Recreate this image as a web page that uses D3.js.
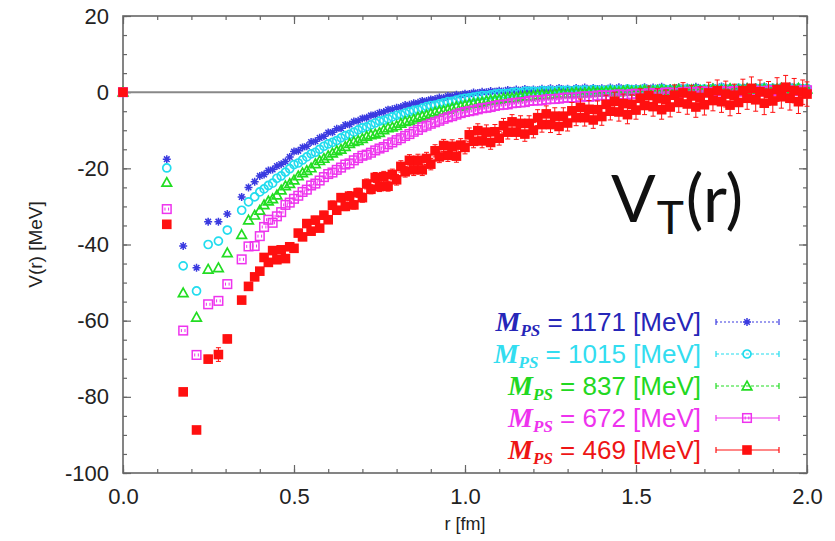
<!DOCTYPE html>
<html>
<head>
<meta charset="utf-8">
<script src="https://cdn.jsdelivr.net/npm/d3@7"></script>
<style>
  html, body { margin: 0; padding: 0; background: #fff; }
  svg { display: block; }
  .tick text { font-family: "Liberation Sans", Arial, sans-serif; font-size: 22px; fill: #222; }
  .axis path.domain { display: none; }
  .axis line { stroke: #666; stroke-width: 1.2; }
  .axis-label { font-family: "Liberation Sans", Arial, sans-serif; font-size: 19px; fill: #222; }
</style>
</head>
<body>
<div id="chart"></div>
<script>
// lattice distances r [fm], shared by all five ensembles
// short distances first, then rows of 8 points per 0.1 fm
const radii = [
  0.000, 0.128, 0.176, 0.215, 0.249, 0.279, 0.305, 0.347, 0.367, 0.385,
  0.4000, 0.4125, 0.4250, 0.4375, 0.4500, 0.4625, 0.4750, 0.4875,
  0.5000, 0.5125, 0.5250, 0.5375, 0.5500, 0.5625, 0.5750, 0.5875,
  0.6000, 0.6125, 0.6250, 0.6375, 0.6500, 0.6625, 0.6750, 0.6875,
  0.7000, 0.7125, 0.7250, 0.7375, 0.7500, 0.7625, 0.7750, 0.7875,
  0.8000, 0.8125, 0.8250, 0.8375, 0.8500, 0.8625, 0.8750, 0.8875,
  0.9000, 0.9125, 0.9250, 0.9375, 0.9500, 0.9625, 0.9750, 0.9875,
  1.0000, 1.0125, 1.0250, 1.0375, 1.0500, 1.0625, 1.0750, 1.0875,
  1.1000, 1.1125, 1.1250, 1.1375, 1.1500, 1.1625, 1.1750, 1.1875,
  1.2000, 1.2125, 1.2250, 1.2375, 1.2500, 1.2625, 1.2750, 1.2875,
  1.3000, 1.3125, 1.3250, 1.3375, 1.3500, 1.3625, 1.3750, 1.3875,
  1.4000, 1.4125, 1.4250, 1.4375, 1.4500, 1.4625, 1.4750, 1.4875,
  1.5000, 1.5125, 1.5250, 1.5375, 1.5500, 1.5625, 1.5750, 1.5875,
  1.6000, 1.6125, 1.6250, 1.6375, 1.6500, 1.6625, 1.6750, 1.6875,
  1.7000, 1.7125, 1.7250, 1.7375, 1.7500, 1.7625, 1.7750, 1.7875,
  1.8000, 1.8125, 1.8250, 1.8375, 1.8500, 1.8625, 1.8750, 1.8875,
  1.9000, 1.9125, 1.9250, 1.9375, 1.9500, 1.9625, 1.9750, 1.9875,
  2.0000
];

// V_T(r) [MeV]
const vM1171 = [
  0, -17.6, -40.4, -46.1, -34.0, -34.0, -32.0, -27.5, -25.0, -23.5,
  -22.0, -21.6, -20.6, -20.3, -19.4, -18.9, -18.2, -17.0,
  -15.6, -15.4, -14.5, -14.2, -13.1, -12.9, -12.0, -11.6,
  -10.6, -10.5, -9.6, -9.5, -8.6, -8.5, -7.7, -7.5,
  -6.9, -6.7, -6.1, -5.9, -5.4, -5.2, -4.6, -4.5,
  -4.1, -3.9, -3.4, -3.3, -2.9, -2.8, -2.3, -2.3,
  -1.9, -1.8, -1.4, -1.5, -1.0, -1.1, -0.7, -0.8,
  -0.4, -0.5, -0.1, -0.2, 0.1, 0.0, 0.3, 0.1,
  0.4, 0.2, 0.6, 0.3, 0.7, 0.4, 0.8, 0.5,
  0.7, 0.5, 0.9, 0.6, 1.0, 0.6, 1.1, 0.7,
  0.9, 0.6, 1.1, 0.7, 1.2, 0.7, 1.1, 0.8,
  1.0, 0.7, 1.2, 0.8, 1.3, 0.8, 1.1, 0.9,
  1.0, 0.7, 1.3, 0.8, 1.2, 0.9, 1.4, 0.8,
  1.1, 0.8, 1.3, 0.9, 1.2, 0.8, 1.4, 0.9,
  1.1, 0.8, 1.3, 0.9, 1.5, 0.9, 1.2, 1.0,
  1.2, 0.8, 1.4, 0.9, 1.3, 1.0, 1.5, 0.9,
  1.2, 0.9, 1.4, 1.0, 1.5, 0.9, 1.3, 1.1,
  1.1
];
const vM1015 = [
  0, -19.9, -45.6, -52.2, -40.0, -39.1, -36.2, -31.0, -28.8, -27.5,
  -26.2, -25.4, -24.5, -23.9, -22.6, -22.0, -21.0, -20.1,
  -19.0, -18.6, -17.8, -17.0, -16.2, -15.8, -15.0, -14.2,
  -13.6, -13.2, -12.7, -12.0, -11.4, -11.1, -10.5, -9.9,
  -9.4, -9.1, -8.6, -8.1, -7.6, -7.4, -7.0, -6.5,
  -6.1, -5.9, -5.5, -5.1, -4.8, -4.6, -4.2, -3.8,
  -3.5, -3.4, -3.1, -2.8, -2.5, -2.4, -2.1, -1.8,
  -1.6, -1.5, -1.3, -1.1, -0.9, -0.9, -0.7, -0.5,
  -0.4, -0.4, -0.3, -0.1, 0.0, -0.1, 0.2, 0.2,
  0.2, 0.1, 0.4, 0.3, 0.4, 0.2, 0.5, 0.4,
  0.5, 0.3, 0.6, 0.4, 0.6, 0.3, 0.7, 0.5,
  0.5, 0.4, 0.7, 0.5, 0.6, 0.4, 0.8, 0.6,
  0.6, 0.5, 0.8, 0.5, 0.7, 0.6, 0.9, 0.6,
  0.7, 0.5, 0.8, 0.6, 0.9, 0.6, 0.8, 0.7,
  0.8, 0.6, 0.9, 0.6, 1.0, 0.7, 0.9, 0.7,
  1.0, 0.7, 0.9, 0.7, 1.0, 0.8, 1.1, 0.8,
  1.0, 0.8, 1.1, 0.8, 1.0, 0.9, 1.1, 0.8,
  1.0
];
const vM837 = [
  0, -23.7, -52.7, -59.1, -46.5, -46.1, -42.2, -37.4, -33.6, -32.3,
  -31.0, -29.6, -28.6, -28.0, -27.0, -25.7, -24.6, -24.0,
  -23.1, -22.0, -21.2, -20.6, -19.9, -18.8, -18.0, -17.4,
  -16.7, -16.0, -15.4, -15.0, -14.3, -13.5, -13.0, -12.7,
  -12.2, -11.6, -11.2, -11.0, -10.6, -9.9, -9.4, -9.2,
  -8.8, -8.2, -7.7, -7.5, -7.1, -6.6, -6.3, -6.0,
  -5.6, -5.2, -4.9, -4.8, -4.5, -4.1, -3.8, -3.7,
  -3.4, -3.1, -2.9, -2.8, -2.6, -2.3, -2.1, -2.0,
  -1.9, -1.6, -1.5, -1.5, -1.4, -1.1, -1.0, -1.0,
  -0.9, -0.7, -0.6, -0.7, -0.6, -0.4, -0.3, -0.4,
  -0.4, -0.2, -0.1, -0.2, -0.2, 0.0, 0.1, 0.0,
  0.0, 0.2, 0.3, 0.1, 0.1, 0.3, 0.4, 0.2,
  0.2, 0.4, 0.5, 0.3, 0.3, 0.5, 0.6, 0.4,
  0.4, 0.6, 0.7, 0.4, 0.5, 0.6, 0.7, 0.5,
  0.5, 0.7, 0.8, 0.5, 0.6, 0.7, 0.9, 0.6,
  0.6, 0.8, 0.9, 0.6, 0.7, 0.8, 0.9, 0.7,
  0.7, 0.9, 1.0, 0.7, 0.8, 0.9, 1.0, 0.7,
  0.8
];
const vM672 = [
  0, -30.7, -62.6, -69.0, -55.7, -54.8, -50.4, -43.9, -40.5, -40.4,
  -37.8, -35.4, -33.5, -34.3, -32.6, -31.5, -29.6, -29.0,
  -28.0, -27.2, -26.2, -25.6, -24.5, -24.0, -23.2, -22.3,
  -21.5, -21.1, -20.4, -19.8, -19.0, -18.7, -17.9, -17.3,
  -16.7, -16.4, -15.9, -15.3, -14.8, -14.4, -13.7, -13.2,
  -12.6, -12.1, -11.5, -11.0, -10.4, -9.9, -9.2, -8.8,
  -8.3, -7.9, -7.5, -7.0, -6.6, -6.3, -5.9, -5.5,
  -5.2, -5.0, -4.8, -4.5, -4.2, -4.1, -3.9, -3.6,
  -3.4, -3.3, -3.2, -2.9, -2.8, -2.7, -2.6, -2.3,
  -2.2, -2.2, -2.1, -1.9, -1.8, -1.8, -1.7, -1.5,
  -1.4, -1.5, -1.4, -1.2, -1.1, -1.2, -1.1, -0.9,
  -0.8, -0.9, -0.9, -0.7, -0.6, -0.7, -0.7, -0.5,
  -0.4, -0.5, -0.5, -0.3, -0.2, -0.3, -0.3, -0.1,
  -0.1, -0.2, -0.2, 0.0, 0.1, 0.0, 0.0, 0.2,
  0.2, 0.0, 0.0, 0.2, 0.3, 0.1, 0.1, 0.3,
  0.3, 0.1, 0.2, 0.4, 0.4, 0.2, 0.2, 0.4,
  0.5, 0.3, 0.3, 0.5, 0.5, 0.3, 0.3, 0.5,
  0.5
];
const vM469 = [
  0, -34.7, -78.7, -88.7, -70.1, -68.9, -64.8, -54.6, -51.0, -48.5,
  -47.0, -43.4, -44.7, -41.6, -44.0, -41.4, -43.7, -40.6,
  -41.0, -37.0, -38.0, -34.5, -36.5, -33.6, -35.7, -32.3,
  -33.5, -29.7, -31.0, -27.7, -30.0, -27.3, -29.6, -26.4,
  -27.7, -24.1, -25.5, -22.4, -24.8, -22.2, -24.7, -21.6,
  -23.0, -19.5, -20.9, -17.9, -20.4, -17.9, -20.4, -17.4,
  -18.9, -15.4, -17.0, -14.0, -16.6, -14.2, -16.8, -13.9,
  -14.5, -11.2, -12.9, -10.1, -12.8, -10.5, -13.2, -10.4,
  -12.1, -8.8, -10.5, -7.8, -10.5, -8.2, -11.0, -8.2,
  -10.0, -6.7, -8.5, -5.7, -8.5, -6.3, -9.0, -6.3,
  -8.1, -4.9, -6.7, -4.0, -6.7, -4.5, -7.3, -4.6,
  -6.4, -3.2, -5.0, -2.4, -5.2, -3.0, -5.9, -3.2,
  -4.7, -1.6, -3.5, -0.9, -3.8, -1.7, -4.6, -2.0,
  -3.9, -0.8, -2.7, -0.2, -3.1, -1.0, -3.9, -1.4,
  -3.3, -0.2, -2.2, 0.4, -2.5, -0.5, -3.4, -0.8,
  -2.7, 0.4, -1.6, 1.0, -2.0, 0.1, -2.9, -0.3,
  -2.3, 0.7, -1.2, 1.3, -1.6, 0.4, -2.5, 0.0,
  -0.5
];
// statistical errors of the lightest ensemble
const errM469 = [
  0, 0.4, 0.6, 0.8, 1.0, 1.8, 1.0, 0.8, 0.8, 0.8,
  0.6, 0.7, 0.6, 0.7, 0.7, 0.8, 0.7, 0.8,
  0.8, 0.9, 0.8, 0.9, 0.9, 1.0, 0.9, 1.0,
  1.0, 1.1, 1.0, 1.1, 1.1, 1.2, 1.1, 1.2,
  1.2, 1.3, 1.2, 1.3, 1.3, 1.4, 1.3, 1.4,
  1.4, 1.5, 1.4, 1.5, 1.5, 1.6, 1.5, 1.6,
  1.5, 1.6, 1.5, 1.6, 1.6, 1.7, 1.6, 1.7,
  1.7, 1.8, 1.7, 1.8, 1.8, 1.9, 1.8, 1.9,
  1.8, 1.9, 1.8, 1.9, 1.9, 2.0, 1.9, 2.0,
  2.0, 2.1, 2.0, 2.1, 2.1, 2.2, 2.1, 2.2,
  2.1, 2.2, 2.1, 2.2, 2.2, 2.3, 2.2, 2.3,
  2.3, 2.4, 2.3, 2.4, 2.4, 2.5, 2.4, 2.5,
  2.4, 2.5, 2.4, 2.5, 2.5, 2.6, 2.5, 2.6,
  2.6, 2.7, 2.6, 2.7, 2.7, 2.8, 2.7, 2.8,
  2.7, 2.8, 2.7, 2.8, 2.8, 3.4, 2.8, 2.9,
  2.9, 3.0, 2.9, 3.0, 3.0, 3.1, 3.0, 3.1,
  3.0, 3.1, 3.0, 3.1, 3.1, 3.2, 3.1, 3.2,
  3.2
];

const masses = [1171, 1015, 837, 672, 469];
const seriesValues = [vM1171, vM1015, vM837, vM672, vM469];
const markerKinds = ["plus", "circle", "triangle", "square", "filled"];
const markerColors = ["#3a3ae0", "#22dcee", "#22dd22", "#ee33ee", "#ff1010"];
const textColors = ["#2626b8", "#33ddf0", "#22d822", "#ee33ee", "#ee1515"];
const lineDash = ["2,2", "3,2", "3,2", null, null];

const xTicks = [0, 0.5, 1.0, 1.5, 2.0];
const yTicks = [-100, -80, -60, -40, -20, 0, 20];

const W = 835, H = 541;
const M = { left: 123, right: 28, top: 16, bottom: 68 };

const svg = d3.select("#chart").append("svg").attr("width", W).attr("height", H);

const x = d3.scaleLinear().domain([0, 2]).range([M.left, W - M.right]);
const y = d3.scaleLinear().domain([-100, 20]).range([H - M.bottom, M.top]);

// minor ticks on all four sides
const minorX = d3.range(0, 2.0001, 0.1);
const minorY = d3.range(-100, 20.001, 5);

svg.append("g").attr("class", "axis")
  .attr("transform", `translate(0,${y(-100)})`)
  .call(d3.axisBottom(x).tickValues(minorX).tickSize(-4).tickFormat(""));
svg.append("g").attr("class", "axis")
  .attr("transform", `translate(0,${y(20)})`)
  .call(d3.axisTop(x).tickValues(minorX).tickSize(-4).tickFormat(""));
svg.append("g").attr("class", "axis")
  .attr("transform", `translate(${x(0)},0)`)
  .call(d3.axisLeft(y).tickValues(minorY).tickSize(-4).tickFormat(""));
svg.append("g").attr("class", "axis")
  .attr("transform", `translate(${x(2)},0)`)
  .call(d3.axisRight(y).tickValues(minorY).tickSize(-4).tickFormat(""));

// major ticks + labels (plain hyphen for minus, like the original)
svg.append("g").attr("class", "axis")
  .attr("transform", `translate(0,${y(-100)})`)
  .call(d3.axisBottom(x).tickValues(xTicks).tickSize(-8).tickPadding(15).tickFormat((d) => d.toFixed(1)));
svg.append("g").attr("class", "axis")
  .attr("transform", `translate(0,${y(20)})`)
  .call(d3.axisTop(x).tickValues(xTicks).tickSize(-8).tickFormat(""));
svg.append("g").attr("class", "axis")
  .attr("transform", `translate(${x(0)},0)`)
  .call(d3.axisLeft(y).tickValues(yTicks).tickSize(-8).tickPadding(14).tickFormat((d) => String(d)));
svg.append("g").attr("class", "axis")
  .attr("transform", `translate(${x(2)},0)`)
  .call(d3.axisRight(y).tickValues(yTicks).tickSize(-8).tickFormat(""));

// frame
svg.append("rect")
  .attr("x", x(0)).attr("y", y(20))
  .attr("width", x(2) - x(0)).attr("height", y(-100) - y(20))
  .attr("fill", "none").attr("stroke", "#666").attr("stroke-width", 1.6);

// zero line
svg.append("line")
  .attr("x1", x(0)).attr("x2", x(2))
  .attr("y1", y(0)).attr("y2", y(0))
  .attr("stroke", "#888").attr("stroke-width", 2);

svg.append("text").attr("class", "axis-label")
  .attr("transform", `translate(42,${(y(20) + y(-100)) / 2}) rotate(-90)`)
  .attr("text-anchor", "middle")
  .text("V(r) [MeV]");
svg.append("text").attr("class", "axis-label")
  .attr("x", (x(0) + x(2)) / 2).attr("y", 530)
  .attr("text-anchor", "middle")
  .style("font-size", "18px")
  .text("r [fm]");

function drawMarker(g, kind, color) {
  if (kind === "plus") {
    g.append("path").attr("d", "M-4,0H4M0,-4V4M-2.8,-2.8L2.8,2.8M-2.8,2.8L2.8,-2.8")
      .attr("stroke", color).attr("stroke-width", 1.5).attr("fill", "none");
  } else if (kind === "circle") {
    g.append("circle").attr("r", 4)
      .attr("stroke", color).attr("stroke-width", 1.7).attr("fill", "none");
  } else if (kind === "triangle") {
    g.append("path").attr("d", "M0,-4.8L4.8,3.8H-4.8Z")
      .attr("stroke", color).attr("stroke-width", 1.7).attr("fill", "none");
  } else if (kind === "square") {
    g.append("rect").attr("x", -4.3).attr("y", -4.3).attr("width", 8.6).attr("height", 8.6)
      .attr("stroke", color).attr("stroke-width", 1.5).attr("fill", "none");
    g.append("path").attr("d", "M-1.8,-1.5V1.5M1.8,-1.5V1.5")
      .attr("stroke", color).attr("stroke-width", 1);
  } else {
    g.append("rect").attr("x", -4.8).attr("y", -4.8).attr("width", 9.6).attr("height", 9.6)
      .attr("fill", color);
  }
}

const plot = svg.append("g");

seriesValues.forEach((vals, si) => {
  const color = markerColors[si];
  const pts = radii.map((r, i) => ({ r, v: vals[i], e: si === 4 ? errM469[i] : 0 }));
  const g = plot.append("g");
  if (si === 4) {
    const eb = g.selectAll("g.err").data(pts.filter((d) => d.e > 0)).join("g")
      .attr("transform", (d) => `translate(${x(d.r)},0)`);
    eb.append("line")
      .attr("y1", (d) => y(d.v + d.e)).attr("y2", (d) => y(d.v - d.e))
      .attr("stroke", color).attr("stroke-width", 1);
    eb.append("line").attr("x1", -2.5).attr("x2", 2.5)
      .attr("y1", (d) => y(d.v + d.e)).attr("y2", (d) => y(d.v + d.e))
      .attr("stroke", color).attr("stroke-width", 1);
    eb.append("line").attr("x1", -2.5).attr("x2", 2.5)
      .attr("y1", (d) => y(d.v - d.e)).attr("y2", (d) => y(d.v - d.e))
      .attr("stroke", color).attr("stroke-width", 1);
  }
  g.selectAll("g.pt").data(pts).join("g")
    .attr("transform", (d) => `translate(${x(d.r)},${y(d.v)})`)
    .each(function () { drawMarker(d3.select(this), markerKinds[si], color); });
});

// legend
const legend = svg.append("g");
masses.forEach((m, i) => {
  const cy = 322 + i * 32;
  const t = legend.append("text")
    .attr("x", 701).attr("y", cy + 9)
    .attr("text-anchor", "end")
    .attr("fill", textColors[i])
    .style("font-family", "'Liberation Sans', Arial, sans-serif")
    .style("font-size", "26px");
  t.append("tspan").text("M")
    .style("font-family", "'Liberation Serif', 'Times New Roman', serif")
    .style("font-style", "italic").style("font-weight", "bold").style("font-size", "28px");
  t.append("tspan").text("PS").attr("dy", 5)
    .style("font-family", "'Liberation Serif', 'Times New Roman', serif")
    .style("font-style", "italic").style("font-weight", "bold").style("font-size", "17px");
  t.append("tspan").text(` = ${m} [MeV]`).attr("dy", -5);

  const lg = legend.append("g").attr("transform", `translate(0,${cy})`);
  lg.append("line").attr("x1", 716).attr("x2", 779)
    .attr("stroke", markerColors[i]).attr("stroke-width", 1.2)
    .attr("stroke-dasharray", lineDash[i]);
  lg.append("path").attr("d", "M716,-3V3M779,-3V3")
    .attr("stroke", markerColors[i]).attr("stroke-width", 1.2);
  drawMarker(lg.append("g").attr("transform", "translate(747,0)"), markerKinds[i], markerColors[i]);
});

// panel title
const title = svg.append("text")
  .attr("x", 611).attr("y", 222)
  .attr("fill", "#111")
  .style("font-family", "Lato, 'Open Sans', sans-serif")
  .style("font-weight", 400)
  .style("font-size", "66px");
title.append("tspan").text("V");
title.append("tspan").text("T").attr("dx", 1).attr("dy", 12).style("font-size", "46px");
title.append("tspan").text("(r)").attr("dx", 2).attr("dy", -12);
</script>
</body>
</html>
